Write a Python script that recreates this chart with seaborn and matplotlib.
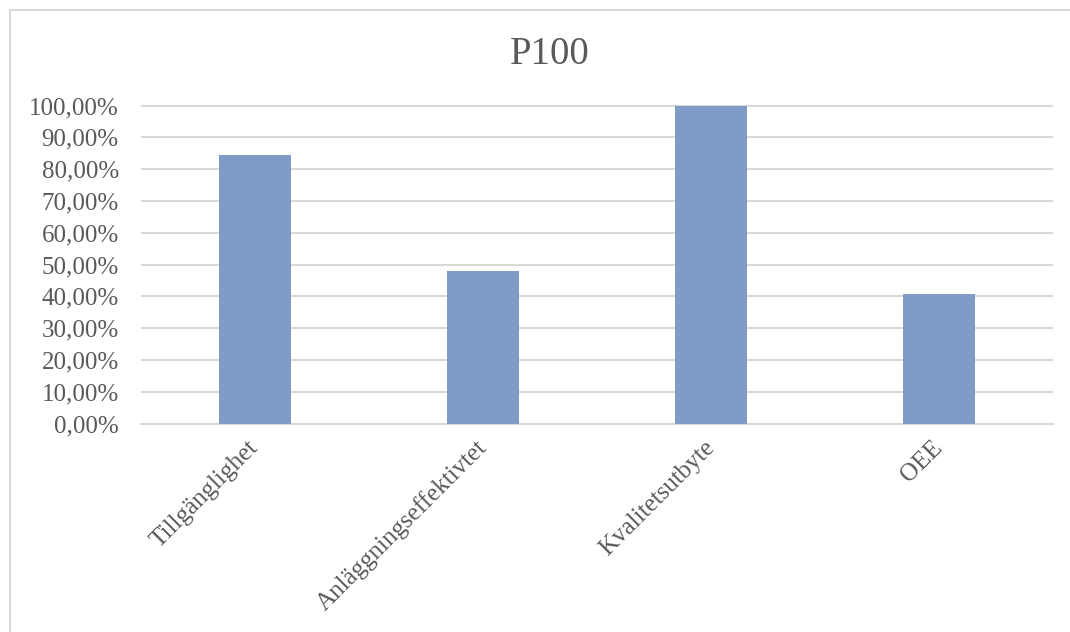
import matplotlib
matplotlib.use("Agg")
import matplotlib.pyplot as plt
from matplotlib.patches import Rectangle
from matplotlib.ticker import FuncFormatter, MultipleLocator
import seaborn as sns
import pandas as pd

categories = ["Tillgänglighet", "Anläggningseffektivtet", "Kvalitetsutbyte", "OEE"]
values = [0.844, 0.480, 1.000, 0.407]
title = "P100"

sns.set_theme(style="white")
plt.rcParams["font.family"] = ["Liberation Serif", "DejaVu Serif"]

text_color = "#595959"
grid_color = "#d9d9d9"
bar_color = "#7f9cc7"

df = pd.DataFrame({"kategori": categories, "värde": values})

fig = plt.figure(figsize=(10.7, 6.32), dpi=100)
ax = fig.add_axes([0.1318, 0.3299, 0.8523, 0.5082])

sns.barplot(data=df, x="kategori", y="värde", color=bar_color, saturation=1,
            width=0.316, linewidth=0, edgecolor="none", ax=ax, zorder=3)

ax.set_xlim(-0.5, len(categories) - 0.5)
ax.set_ylim(0, 1.01)
ax.yaxis.set_major_locator(MultipleLocator(0.1))
ax.yaxis.set_major_formatter(FuncFormatter(lambda v, _: f"{v * 100:.2f}%".replace(".", ",")))
ax.grid(axis="y", color=grid_color, linewidth=1.5, zorder=0)
ax.grid(axis="x", visible=False)
for side in ["top", "right", "left"]:
    ax.spines[side].set_visible(False)
ax.spines["bottom"].set_color(grid_color)
ax.spines["bottom"].set_linewidth(1.5)

ax.set_xlabel("")
ax.set_ylabel("")
ax.tick_params(axis="y", length=0, pad=16, labelsize=18, labelcolor=text_color)
ax.tick_params(axis="x", length=0, pad=15, labelsize=18, labelcolor=text_color)
for lbl in ax.get_xticklabels():
    lbl.set_rotation(45)
    lbl.set_ha("right")
    lbl.set_va("center")
    lbl.set_rotation_mode("anchor")

fig.text(0.5137, 0.913, title, ha="center", va="center", fontsize=28, color=text_color)

fig.add_artist(Rectangle((9.5 / 1070, -0.1), 1.2, (632 - 9.5) / 632 + 0.1,
                         transform=fig.transFigure, fill=False,
                         edgecolor=grid_color, linewidth=1.5))

fig.savefig("out.png", dpi=100, facecolor="white")
